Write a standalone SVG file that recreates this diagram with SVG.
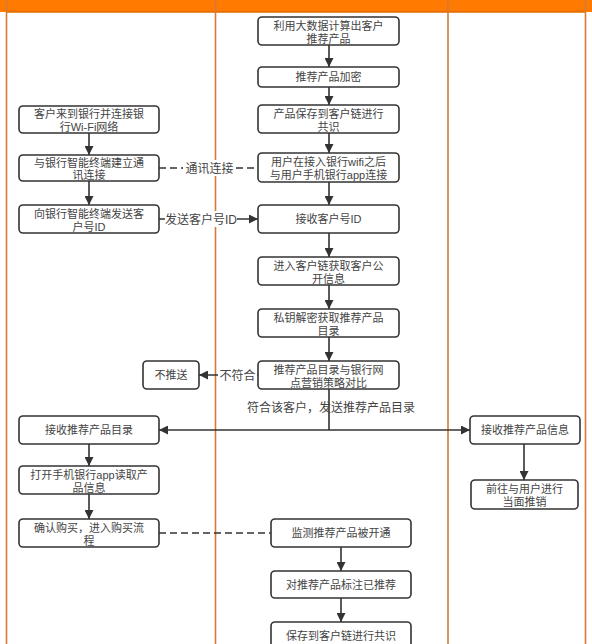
<svg xmlns="http://www.w3.org/2000/svg" width="592" height="644" viewBox="0 0 592 644">
<style>
.box{fill:#fff;stroke:#333;stroke-width:1.6}
.t{font-family:"Liberation Sans","Noto Sans CJK SC",sans-serif;font-size:11px;fill:#444;text-anchor:middle}
.lbl{font-family:"Liberation Sans","Noto Sans CJK SC",sans-serif;font-size:12px;fill:#444;text-anchor:middle}
.c{fill:none;stroke:#333;stroke-width:1.6}
.d{fill:none;stroke:#333;stroke-width:1.6;stroke-dasharray:7 4}
.lane{fill:none;stroke:#d77a35;stroke-width:1.6}
</style>
<defs>
<marker id="ah" viewBox="0 0 10 10" refX="10" refY="5" markerWidth="9" markerHeight="9" markerUnits="userSpaceOnUse" orient="auto">
<path d="M0,0 L10,5 L0,10 z" fill="#333"/>
</marker>
</defs>
<rect width="592" height="644" fill="#fff"/>
<g id="lanes">
<rect x="0" y="0" width="592" height="12" fill="#ff7a00"/>
<line x1="6" y1="12" x2="586" y2="12" stroke="#e06a00" stroke-width="1.5"/>
<line class="lane" x1="6.5" y1="0" x2="6.5" y2="644"/>
<line class="lane" x1="215.5" y1="0" x2="215.5" y2="644"/>
<line class="lane" x1="448" y1="0" x2="448" y2="644"/>
<line class="lane" x1="585.5" y1="0" x2="585.5" y2="644"/>
</g>
<g id="connectors">
<line class="c" x1="329" y1="45" x2="329" y2="67" marker-end="url(#ah)"/>
<line class="c" x1="329" y1="87" x2="329" y2="105" marker-end="url(#ah)"/>
<line class="c" x1="329" y1="133" x2="329" y2="153" marker-end="url(#ah)"/>
<line class="c" x1="329" y1="182" x2="329" y2="205" marker-end="url(#ah)"/>
<line class="c" x1="329" y1="233" x2="329" y2="257" marker-end="url(#ah)"/>
<line class="c" x1="329" y1="285" x2="329" y2="309" marker-end="url(#ah)"/>
<line class="c" x1="329" y1="337" x2="329" y2="361" marker-end="url(#ah)"/>
<line class="c" x1="329" y1="389" x2="329" y2="430"/>
<line class="c" x1="329" y1="430" x2="159" y2="430" marker-end="url(#ah)"/>
<line class="c" x1="329" y1="430" x2="470" y2="430" marker-end="url(#ah)"/>
<line class="c" x1="89" y1="133" x2="89" y2="155" marker-end="url(#ah)"/>
<line class="c" x1="89" y1="181" x2="89" y2="205" marker-end="url(#ah)"/>
<line class="d" x1="159" y1="168" x2="258" y2="168"/>
<rect x="183" y="160" width="53" height="16" fill="#fff"/>
<text class="lbl" x="209.5" y="172.5">通讯连接</text>
<line class="c" x1="159" y1="219" x2="258" y2="219" marker-end="url(#ah)"/>
<rect x="165" y="211" width="72" height="16" fill="#fff"/>
<text class="lbl" x="201" y="223.5">发送客户号ID</text>
<line class="c" x1="258" y1="375" x2="199" y2="375" marker-end="url(#ah)"/>
<rect x="218" y="367" width="39" height="16" fill="#fff"/>
<text class="lbl" x="237.5" y="379.5">不符合</text>
<line class="c" x1="89" y1="444" x2="89" y2="466" marker-end="url(#ah)"/>
<line class="c" x1="89" y1="494" x2="89" y2="519" marker-end="url(#ah)"/>
<line class="d" x1="159" y1="533" x2="271" y2="533"/>
<line class="c" x1="341" y1="547" x2="341" y2="571" marker-end="url(#ah)"/>
<line class="c" x1="341" y1="598" x2="341" y2="622" marker-end="url(#ah)"/>
<line class="c" x1="524" y1="444" x2="524" y2="480" marker-end="url(#ah)"/>
<text class="lbl" x="331" y="412">符合该客户，发送推荐产品目录</text>
</g>
<g id="m1"><rect class="box" x="258" y="17" width="141" height="28" rx="4"/><text class="t" x="328.5" y="29.5">利用大数据计算出客户</text><text class="t" x="328.5" y="42.5">推荐产品</text></g>
<g id="m2"><rect class="box" x="258" y="67" width="141" height="20" rx="4"/><text class="t" x="328.5" y="81">推荐产品加密</text></g>
<g id="m3"><rect class="box" x="258" y="105" width="141" height="28" rx="4"/><text class="t" x="328.5" y="117.5">产品保存到客户链进行</text><text class="t" x="328.5" y="130.5">共识</text></g>
<g id="m4"><rect class="box" x="258" y="153" width="141" height="29" rx="4"/><text class="t" x="328.5" y="165.5">用户在接入银行wifi之后</text><text class="t" x="328.5" y="178.5">与用户手机银行app连接</text></g>
<g id="m5"><rect class="box" x="258" y="205" width="141" height="28" rx="4"/><text class="t" x="328.5" y="223">接收客户号ID</text></g>
<g id="m6"><rect class="box" x="258" y="257" width="141" height="28" rx="4"/><text class="t" x="328.5" y="269.5">进入客户链获取客户公</text><text class="t" x="328.5" y="282.5">开信息</text></g>
<g id="m7"><rect class="box" x="258" y="309" width="141" height="28" rx="4"/><text class="t" x="328.5" y="321.5">私钥解密获取推荐产品</text><text class="t" x="328.5" y="334.5">目录</text></g>
<g id="m8"><rect class="box" x="258" y="361" width="141" height="28" rx="4"/><text class="t" x="328.5" y="373.5">推荐产品目录与银行网</text><text class="t" x="328.5" y="386.5">点营销策略对比</text></g>
<g id="m9"><rect class="box" x="271" y="519" width="140" height="28" rx="4"/><text class="t" x="341" y="537">监测推荐产品被开通</text></g>
<g id="m10"><rect class="box" x="271" y="571" width="140" height="27" rx="4"/><text class="t" x="341" y="588.5">对推荐产品标注已推荐</text></g>
<g id="m11"><rect class="box" x="271" y="622" width="140" height="28" rx="4"/><text class="t" x="341" y="640">保存到客户链进行共识</text></g>
<g id="a"><rect class="box" x="19" y="106" width="140" height="27" rx="4"/><text class="t" x="89" y="118">客户来到银行并连接银</text><text class="t" x="89" y="130.5">行Wi-Fi网络</text></g>
<g id="b"><rect class="box" x="19" y="155" width="140" height="26" rx="4"/><text class="t" x="89" y="166.5">与银行智能终端建立通</text><text class="t" x="89" y="179">讯连接</text></g>
<g id="c"><rect class="box" x="19" y="205" width="140" height="28" rx="4"/><text class="t" x="89" y="217.5">向银行智能终端发送客</text><text class="t" x="89" y="230.5">户号ID</text></g>
<g id="d"><rect class="box" x="19" y="416" width="140" height="28" rx="4"/><text class="t" x="89" y="434">接收推荐产品目录</text></g>
<g id="e"><rect class="box" x="19" y="466" width="140" height="28" rx="4"/><text class="t" x="89" y="478.5">打开手机银行app读取产</text><text class="t" x="89" y="491.5">品信息</text></g>
<g id="f"><rect class="box" x="19" y="519" width="140" height="28" rx="4"/><text class="t" x="89" y="531.5">确认购买，进入购买流</text><text class="t" x="89" y="544.5">程</text></g>
<g id="nopush"><rect class="box" x="143" y="361" width="56" height="28" rx="4"/><text class="t" x="171" y="379">不推送</text></g>
<g id="r1"><rect class="box" x="470" y="416" width="110" height="28" rx="4"/><text class="t" x="525" y="434">接收推荐产品信息</text></g>
<g id="r2"><rect class="box" x="471" y="480" width="107" height="29" rx="4"/><text class="t" x="524.5" y="492.5">前往与用户进行</text><text class="t" x="524.5" y="505.5">当面推销</text></g>
</svg>
